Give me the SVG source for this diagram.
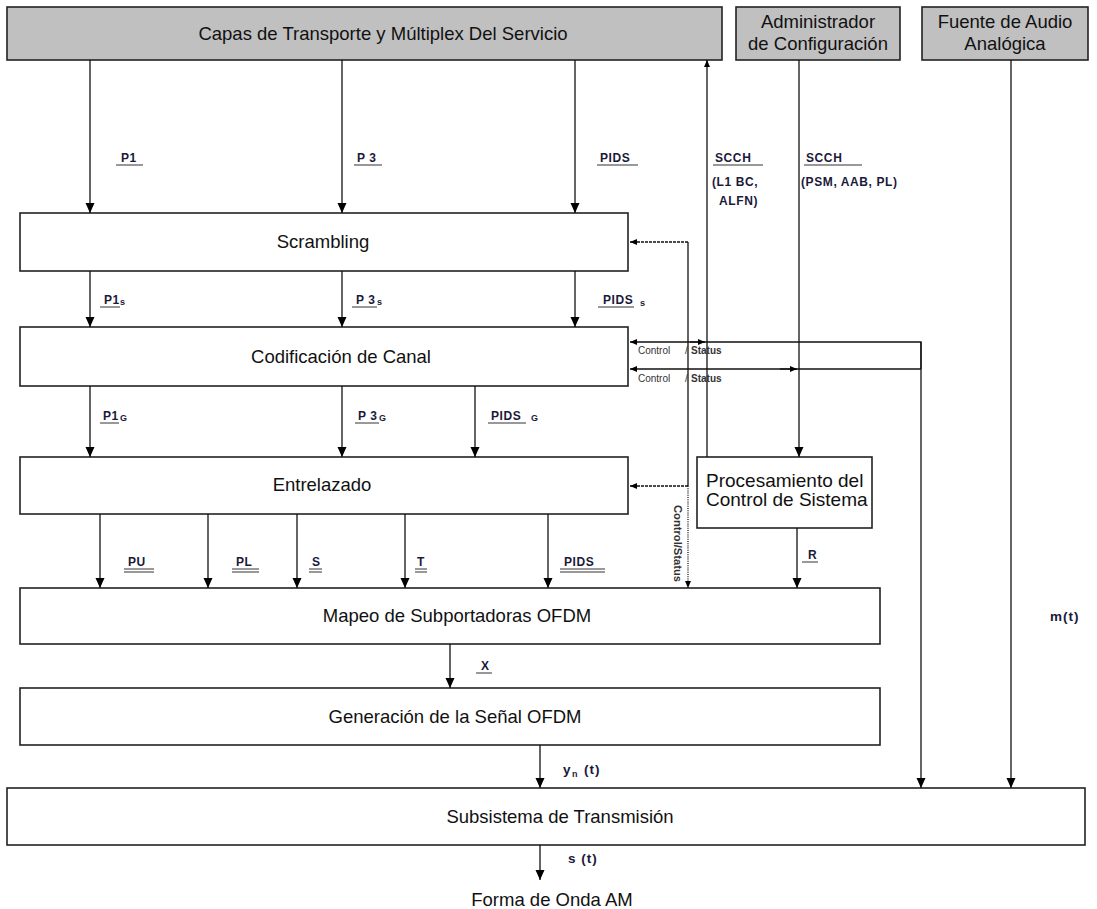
<svg xmlns="http://www.w3.org/2000/svg" width="1097" height="909" viewBox="0 0 1097 909">
<defs>
<marker id="ah" markerUnits="userSpaceOnUse" markerWidth="10" markerHeight="10" refX="10" refY="4.5" orient="auto"><path d="M0,0 L10,4.5 L0,9 z" fill="#000"/></marker>
<marker id="as" markerUnits="userSpaceOnUse" markerWidth="8" markerHeight="8" refX="7" refY="3" orient="auto"><path d="M0,0 L7,3 L0,6 z" fill="#000"/></marker>
<style>
.box{fill:#fff;stroke:#222;stroke-width:1.6}
.gbox{fill:#c0c0c0;stroke:#222;stroke-width:1.6}
.t{font-family:"Liberation Sans",Arial,sans-serif;font-size:18.5px;fill:#111;text-anchor:middle}
.tl{font-family:"Liberation Sans",Arial,sans-serif;font-size:19px;fill:#111}
.lb{font-family:"Liberation Sans",Arial,sans-serif;font-size:12px;font-weight:bold;fill:#1a1a3a;letter-spacing:0.6px}
.lb2{font-family:"Liberation Sans",Arial,sans-serif;font-size:13.5px;font-weight:bold;fill:#1a1a3a;letter-spacing:1px}
.sub{font-family:"Liberation Sans",Arial,sans-serif;font-size:9px;font-weight:bold;fill:#1a1a3a}
.cs{font-family:"Liberation Sans",Arial,sans-serif;font-size:10px;fill:#333}
.ln{fill:none;stroke:#111;stroke-width:1.3}
.ul{stroke:#333;stroke-width:1}
.dash{stroke-dasharray:3,1}
.dot{stroke-dasharray:1,1.2}
</style>
</defs>

<g id="capas"><rect class="gbox" x="7" y="7" width="715" height="53"/><text class="t" x="383" y="40" font-size="19.7">Capas de Transporte y Múltiplex Del Servicio</text></g>
<g id="admin"><rect class="gbox" x="736" y="7" width="164" height="53"/><text class="t" x="818" y="28" font-size="19">Administrador</text><text class="t" x="818" y="50" font-size="19">de Configuración</text></g>
<g id="fuente"><rect class="gbox" x="922" y="7" width="166" height="53"/><text class="t" x="1005" y="28" font-size="19">Fuente de Audio</text><text class="t" x="1005" y="50" font-size="19">Analógica</text></g>
<g id="scrambling"><rect class="box" x="20" y="213" width="608" height="58"/><text class="t" x="323" y="248" font-size="16.5">Scrambling</text></g>
<g id="codificacion"><rect class="box" x="20" y="327" width="608" height="59"/><text class="t" x="341" y="363">Codificación de Canal</text></g>
<g id="entrelazado"><rect class="box" x="20" y="457" width="608" height="57"/><text class="t" x="322" y="491" font-size="17.5">Entrelazado</text></g>
<g id="procesamiento"><rect class="box" x="697" y="457" width="175" height="71"/><text class="tl" x="706" y="487">Procesamiento del</text><text class="tl" x="706" y="506">Control de Sistema</text></g>
<g id="mapeo"><rect class="box" x="20" y="588" width="860" height="56"/><text class="t" x="457" y="622" font-size="17.2">Mapeo de Subportadoras OFDM</text></g>
<g id="generacion"><rect class="box" x="20" y="688" width="860" height="57"/><text class="t" x="455" y="723">Generación de la Señal OFDM</text></g>
<g id="subsistema"><rect class="box" x="7" y="788" width="1078" height="57"/><text class="t" x="560" y="823" font-size="19">Subsistema de Transmisión</text></g>
<g id="salida"><text class="t" x="552" y="906">Forma de Onda AM</text></g>

<g id="connectors">
<line class="ln" x1="90" y1="60" x2="90" y2="213" marker-end="url(#ah)"/>
<line class="ln" x1="342" y1="60" x2="342" y2="213" marker-end="url(#ah)"/>
<line class="ln" x1="575" y1="60" x2="575" y2="213" marker-end="url(#ah)"/>
<line class="ln" x1="90" y1="271" x2="90" y2="327" marker-end="url(#ah)"/>
<line class="ln" x1="342" y1="271" x2="342" y2="327" marker-end="url(#ah)"/>
<line class="ln" x1="575" y1="271" x2="575" y2="327" marker-end="url(#ah)"/>
<line class="ln" x1="90" y1="386" x2="90" y2="457" marker-end="url(#ah)"/>
<line class="ln" x1="342" y1="386" x2="342" y2="457" marker-end="url(#ah)"/>
<line class="ln" x1="475" y1="386" x2="475" y2="457" marker-end="url(#ah)"/>
<line class="ln" x1="100" y1="514" x2="100" y2="588" marker-end="url(#ah)"/>
<line class="ln" x1="208" y1="514" x2="208" y2="588" marker-end="url(#ah)"/>
<line class="ln" x1="297" y1="514" x2="297" y2="588" marker-end="url(#ah)"/>
<line class="ln" x1="405" y1="514" x2="405" y2="588" marker-end="url(#ah)"/>
<line class="ln" x1="548" y1="514" x2="548" y2="588" marker-end="url(#ah)"/>
<line class="ln" x1="450" y1="644" x2="450" y2="688" marker-end="url(#ah)"/>
<line class="ln" x1="540" y1="745" x2="540" y2="788" marker-end="url(#ah)"/>
<line class="ln" x1="540" y1="845" x2="540" y2="880" marker-end="url(#ah)"/>
<line class="ln" x1="797" y1="528" x2="797" y2="588" marker-end="url(#ah)"/>
<line class="ln" x1="707" y1="457" x2="707" y2="60" marker-end="url(#as)"/>
<line class="ln" x1="799" y1="60" x2="799" y2="457" marker-end="url(#ah)"/>
<line class="ln" x1="1011" y1="60" x2="1011" y2="788" marker-end="url(#ah)"/>
<polyline class="ln" points="921,369 921,342 630,342" marker-end="url(#as)"/>
<line class="ln" x1="921" y1="342" x2="921" y2="788" marker-end="url(#ah)"/>
<line class="ln" x1="921" y1="369" x2="630" y2="369" marker-end="url(#as)"/>
<line class="ln" x1="690" y1="342" x2="705" y2="342" marker-end="url(#as)"/>
<line class="ln" x1="780" y1="369" x2="797" y2="369" marker-end="url(#as)"/>
<line class="ln" x1="688" y1="242" x2="688" y2="486"/>
<line class="ln dash" x1="688" y1="242" x2="630" y2="242" marker-end="url(#as)"/>
<line class="ln dash" x1="688" y1="486" x2="630" y2="486" marker-end="url(#as)"/>
<line class="ln dot" x1="688" y1="486" x2="688" y2="588" marker-end="url(#as)"/>
</g>

<g id="labels">
<text class="lb" x="121" y="162">P1</text><line class="ul" x1="116" y1="165" x2="143" y2="165"/>
<text class="lb" x="357" y="162">P 3</text><line class="ul" x1="354" y1="165" x2="382" y2="165"/>
<text class="lb" x="600" y="162">PIDS</text><line class="ul" x1="597" y1="165" x2="638" y2="165"/>
<text class="lb" x="715" y="162">SCCH</text><line class="ul" x1="713" y1="165" x2="763" y2="165"/>
<text class="lb" x="712" y="186">(L1 BC,</text>
<text class="lb" x="719" y="205">ALFN)</text>
<text class="lb" x="806" y="162">SCCH</text><line class="ul" x1="804" y1="165" x2="862" y2="165"/>
<text class="lb" x="801" y="186" letter-spacing="0.2">(PSM, AAB, PL)</text>

<text class="lb" x="104" y="304">P1</text><text class="sub" x="120" y="305">s</text><line class="ul" x1="100" y1="307" x2="120" y2="307"/>
<text class="lb" x="356" y="304">P 3</text><text class="sub" x="377" y="305">s</text><line class="ul" x1="352" y1="307" x2="377" y2="307"/>
<text class="lb" x="603" y="304">PIDS</text><text class="sub" x="640" y="306">s</text><line class="ul" x1="598" y1="307" x2="634" y2="307"/>

<text class="lb" x="103" y="420">P1</text><text class="sub" x="120" y="421">G</text><line class="ul" x1="100" y1="423" x2="119" y2="423"/>
<text class="lb" x="358" y="420">P 3</text><text class="sub" x="379" y="421">G</text><line class="ul" x1="355" y1="423" x2="379" y2="423"/>
<text class="lb" x="491" y="420">PIDS</text><text class="sub" x="531" y="421">G</text><line class="ul" x1="488" y1="423" x2="526" y2="423"/>

<text class="lb" x="128" y="566">PU</text><line class="ul" x1="124" y1="569" x2="154" y2="569"/><line class="ul" x1="124" y1="572" x2="154" y2="572"/>
<text class="lb" x="236" y="566">PL</text><line class="ul" x1="232" y1="569" x2="259" y2="569"/><line class="ul" x1="232" y1="572" x2="259" y2="572"/>
<text class="lb" x="312" y="566">S</text><line class="ul" x1="309" y1="569" x2="322" y2="569"/><line class="ul" x1="309" y1="572" x2="322" y2="572"/>
<text class="lb" x="417" y="566">T</text><line class="ul" x1="415" y1="569" x2="427" y2="569"/><line class="ul" x1="415" y1="572" x2="427" y2="572"/>
<text class="lb" x="564" y="566">PIDS</text><line class="ul" x1="560" y1="569" x2="605" y2="569"/><line class="ul" x1="560" y1="572" x2="605" y2="572"/>

<text class="lb" x="808" y="559">R</text><line class="ul" x1="802" y1="562" x2="818" y2="562"/>
<text class="lb" x="481" y="670">X</text><line class="ul" x1="476" y1="673" x2="492" y2="673"/>
<text class="lb2" x="563" y="774">y</text><text class="sub" x="572" y="777">n</text><text class="lb2" x="584" y="774">(t)</text>
<text class="lb2" x="568" y="863">s (t)</text>
<text class="lb2" x="1050" y="621">m(t)</text>

<text class="cs" x="638" y="354">Control</text><text class="cs" x="685" y="354">/</text><text class="cs" x="691" y="354" font-weight="bold">Status</text>
<text class="cs" x="638" y="382">Control</text><text class="cs" x="685" y="382">/</text><text class="cs" x="691" y="382" font-weight="bold">Status</text>
<text class="cs" font-weight="bold" transform="translate(674,505) rotate(90)" textLength="77" lengthAdjust="spacingAndGlyphs">Control/Status</text>
</g>
</svg>
